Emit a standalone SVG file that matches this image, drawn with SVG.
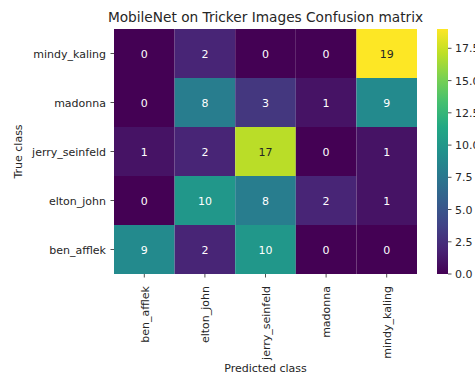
<svg xmlns="http://www.w3.org/2000/svg" width="475" height="375" viewBox="0 0 475 375">
<style>
text{font-family:"DejaVu Sans",sans-serif;fill:#262626}
.t{font-size:11px}
.a{font-size:11px;text-anchor:middle}
.w{fill:#ffffff}
.d{fill:#262626}
.tk{stroke:#262626;stroke-width:0.8}
</style>
<defs>
<linearGradient id="vir" x1="0" y1="1" x2="0" y2="0">
<stop offset="0" stop-color="#440154"/>
<stop offset="0.1" stop-color="#482475"/>
<stop offset="0.2" stop-color="#414487"/>
<stop offset="0.3" stop-color="#355f8d"/>
<stop offset="0.4" stop-color="#2a788e"/>
<stop offset="0.5" stop-color="#21918c"/>
<stop offset="0.6" stop-color="#22a884"/>
<stop offset="0.7" stop-color="#44bf70"/>
<stop offset="0.8" stop-color="#7ad151"/>
<stop offset="0.9" stop-color="#bddf26"/>
<stop offset="1" stop-color="#fde725"/>
</linearGradient>
</defs>
<rect width="475" height="375" fill="#ffffff"/>
<text x="265.5" y="22" style="font-size:13.7px;text-anchor:middle">MobileNet on Tricker Images Confusion matrix</text>
<g id="cells">
<rect x="114" y="29" width="60.6" height="49" fill="#440154"/>
<rect x="174.6" y="29" width="60.6" height="49" fill="#482576"/>
<rect x="235.2" y="29" width="60.6" height="49" fill="#440154"/>
<rect x="295.8" y="29" width="60.6" height="49" fill="#440154"/>
<rect x="356.4" y="29" width="60.6" height="49" fill="#fde725"/>
<rect x="114" y="78" width="60.6" height="49" fill="#440154"/>
<rect x="174.6" y="78" width="60.6" height="49" fill="#287d8e"/>
<rect x="235.2" y="78" width="60.6" height="49" fill="#44377f"/>
<rect x="295.8" y="78" width="60.6" height="49" fill="#461365"/>
<rect x="356.4" y="78" width="60.6" height="49" fill="#238a8d"/>
<rect x="114" y="127" width="60.6" height="49" fill="#461365"/>
<rect x="174.6" y="127" width="60.6" height="49" fill="#482576"/>
<rect x="235.2" y="127" width="60.6" height="49" fill="#badd28"/>
<rect x="295.8" y="127" width="60.6" height="49" fill="#440154"/>
<rect x="356.4" y="127" width="60.6" height="49" fill="#461365"/>
<rect x="114" y="176" width="60.6" height="49" fill="#440154"/>
<rect x="174.6" y="176" width="60.6" height="49" fill="#21978a"/>
<rect x="235.2" y="176" width="60.6" height="49" fill="#287d8e"/>
<rect x="295.8" y="176" width="60.6" height="49" fill="#482576"/>
<rect x="356.4" y="176" width="60.6" height="49" fill="#461365"/>
<rect x="114" y="225" width="60.6" height="49" fill="#238a8d"/>
<rect x="174.6" y="225" width="60.6" height="49" fill="#482576"/>
<rect x="235.2" y="225" width="60.6" height="49" fill="#21978a"/>
<rect x="295.8" y="225" width="60.6" height="49" fill="#440154"/>
<rect x="356.4" y="225" width="60.6" height="49" fill="#440154"/>
</g>
<g id="annotations">
<text class="a w" x="144.3" y="57.5">0</text>
<text class="a w" x="204.9" y="57.5">2</text>
<text class="a w" x="265.5" y="57.5">0</text>
<text class="a w" x="326.1" y="57.5">0</text>
<text class="a d" x="386.7" y="57.5">19</text>
<text class="a w" x="144.3" y="106.5">0</text>
<text class="a w" x="204.9" y="106.5">8</text>
<text class="a w" x="265.5" y="106.5">3</text>
<text class="a w" x="326.1" y="106.5">1</text>
<text class="a w" x="386.7" y="106.5">9</text>
<text class="a w" x="144.3" y="155.5">1</text>
<text class="a w" x="204.9" y="155.5">2</text>
<text class="a d" x="265.5" y="155.5">17</text>
<text class="a w" x="326.1" y="155.5">0</text>
<text class="a w" x="386.7" y="155.5">1</text>
<text class="a w" x="144.3" y="204.5">0</text>
<text class="a w" x="204.9" y="204.5">10</text>
<text class="a w" x="265.5" y="204.5">8</text>
<text class="a w" x="326.1" y="204.5">2</text>
<text class="a w" x="386.7" y="204.5">1</text>
<text class="a w" x="144.3" y="253.5">9</text>
<text class="a w" x="204.9" y="253.5">2</text>
<text class="a w" x="265.5" y="253.5">10</text>
<text class="a w" x="326.1" y="253.5">0</text>
<text class="a w" x="386.7" y="253.5">0</text>
</g>
<g id="yaxis">
<line class="tk" x1="110.5" y1="53.5" x2="114" y2="53.5"/>
<line class="tk" x1="110.5" y1="102.5" x2="114" y2="102.5"/>
<line class="tk" x1="110.5" y1="151.5" x2="114" y2="151.5"/>
<line class="tk" x1="110.5" y1="200.5" x2="114" y2="200.5"/>
<line class="tk" x1="110.5" y1="249.5" x2="114" y2="249.5"/>
<text class="t" x="106" y="57.5" text-anchor="end">mindy_kaling</text>
<text class="t" x="106" y="106.5" text-anchor="end">madonna</text>
<text class="t" x="106" y="155.5" text-anchor="end">jerry_seinfeld</text>
<text class="t" x="106" y="204.5" text-anchor="end">elton_john</text>
<text class="t" x="106" y="253.5" text-anchor="end">ben_afflek</text>
<text class="t" transform="translate(21.5,151.5) rotate(-90)" text-anchor="middle">True class</text>
</g>
<g id="xaxis">
<line class="tk" x1="144.3" y1="274" x2="144.3" y2="277.5"/>
<line class="tk" x1="204.9" y1="274" x2="204.9" y2="277.5"/>
<line class="tk" x1="265.5" y1="274" x2="265.5" y2="277.5"/>
<line class="tk" x1="326.1" y1="274" x2="326.1" y2="277.5"/>
<line class="tk" x1="386.7" y1="274" x2="386.7" y2="277.5"/>
<text class="t" transform="translate(148.5,286) rotate(-90)" text-anchor="end">ben_afflek</text>
<text class="t" transform="translate(209.1,286) rotate(-90)" text-anchor="end">elton_john</text>
<text class="t" transform="translate(269.7,286) rotate(-90)" text-anchor="end">jerry_seinfeld</text>
<text class="t" transform="translate(330.3,286) rotate(-90)" text-anchor="end">madonna</text>
<text class="t" transform="translate(390.9,286) rotate(-90)" text-anchor="end">mindy_kaling</text>
<text class="t" x="265.5" y="371.5" text-anchor="middle">Predicted class</text>
</g>
<g id="colorbar">
<rect x="437" y="29" width="11" height="245" fill="url(#vir)"/>
<line class="tk" x1="448" y1="274" x2="451.5" y2="274"/>
<line class="tk" x1="448" y1="241.8" x2="451.5" y2="241.8"/>
<line class="tk" x1="448" y1="209.5" x2="451.5" y2="209.5"/>
<line class="tk" x1="448" y1="177.3" x2="451.5" y2="177.3"/>
<line class="tk" x1="448" y1="145.1" x2="451.5" y2="145.1"/>
<line class="tk" x1="448" y1="112.8" x2="451.5" y2="112.8"/>
<line class="tk" x1="448" y1="80.6" x2="451.5" y2="80.6"/>
<line class="tk" x1="448" y1="48.3" x2="451.5" y2="48.3"/>
<text class="t" x="455" y="278">0.0</text>
<text class="t" x="455" y="245.8">2.5</text>
<text class="t" x="455" y="213.5">5.0</text>
<text class="t" x="455" y="181.3">7.5</text>
<text class="t" x="455" y="149.1">10.0</text>
<text class="t" x="455" y="116.8">12.5</text>
<text class="t" x="455" y="84.6">15.0</text>
<text class="t" x="455" y="52.3">17.5</text>
</g>
</svg>
